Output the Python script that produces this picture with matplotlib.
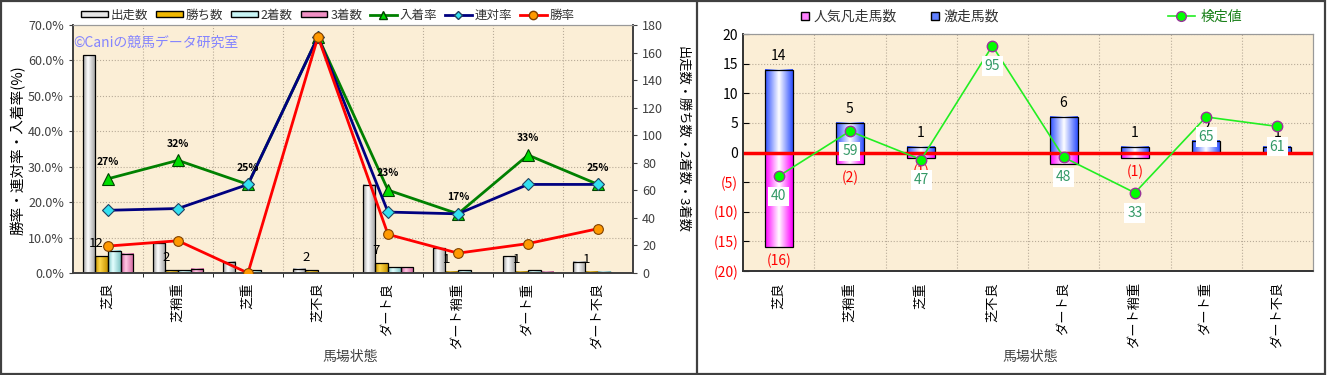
import numpy as np
import matplotlib.pyplot as plt
from matplotlib.colors import LinearSegmentedColormap
from matplotlib.lines import Line2D
from matplotlib.patches import Patch, Rectangle
from matplotlib.transforms import blended_transform_factory

plt.rcParams['font.family'] = ['Noto Sans CJK JP', 'DejaVu Sans']

categories = ['芝良', '芝稍重', '芝重', '芝不良', 'ダート良', 'ダート稍重', 'ダート重', 'ダート不良']

# left chart: counts (right axis) and rates in % (left axis)
runs = [158, 22, 8, 3, 64, 18, 12, 8]
wins = [12, 2, 0, 2, 7, 1, 1, 1]
seconds = [16, 2, 2, 0, 4, 2, 2, 1]
thirds = [14, 3, 0, 0, 4, 0, 1, 0]
win_rate = [7.6, 9.1, 0.0, 66.7, 10.9, 5.6, 8.3, 12.5]
rentai_rate = [17.7, 18.2, 25.0, 66.7, 17.2, 16.7, 25.0, 25.0]
place_rate = [26.6, 31.8, 25.0, 66.7, 23.4, 16.7, 33.3, 25.0]
place_labels = ['27%', '32%', '25%', '67%', '23%', '17%', '33%', '25%']

# right chart
gekisou = [14, 5, 1, 0, 6, 1, 2, 1]         # 激走馬数
bonsou = [-16, -2, -1, 0, -2, -1, 0, 0]     # 人気凡走馬数
kentei = [40, 59, 47, 95, 48, 33, 65, 61]   # 検定値

BG = '#fbeed6'
GRID = '#b8ab98'
W, H = 1328, 375


def grad_bars(ax, xs, heights, width, edge, center, mid=0.38, z=2):
    cmap = LinearSegmentedColormap.from_list('g', [(0, edge), (mid, center), (1, edge)])
    img = np.linspace(0, 1, 64).reshape(1, -1)
    for x, h in zip(xs, heights):
        if h == 0:
            continue
        ax.imshow(img, extent=[x - width / 2, x + width / 2, 0, h], aspect='auto',
                  cmap=cmap, interpolation='bilinear', zorder=z)
    ax.bar(xs, heights, width, facecolor='none', edgecolor='black', lw=0.9, zorder=z + 0.1)


def px_axes(x0, y0, x1, y1):
    return fig.add_axes([x0 / W, 1 - y1 / H, (x1 - x0) / W, (y1 - y0) / H])


fig = plt.figure(figsize=(W / 100, H / 100), dpi=100)
x = np.arange(len(categories))

# ---------------- left chart ----------------
ax_cnt = px_axes(73, 25, 633, 273)
ax_rate = ax_cnt.twinx()
ax_cnt.yaxis.tick_right()
ax_rate.yaxis.tick_left()
ax_rate.set_zorder(ax_cnt.get_zorder() + 1)
ax_rate.patch.set_visible(False)
ax_cnt.set_facecolor(BG)

bw = 0.18
bar_specs = [
    (runs, '#9c9c9c', '#ffffff'),
    (wins, '#c89400', '#ffd84a'),
    (seconds, '#7cc4c4', '#e4ffff'),
    (thirds, '#d0609c', '#ffc8e4'),
]
for k, (vals, edge, center) in enumerate(bar_specs):
    grad_bars(ax_cnt, x + (k - 1.5) * bw, vals, bw, edge, center)

for i, v in enumerate(wins):
    if v > 0:
        ax_cnt.annotate(str(v), (x[i] - 0.95 * bw, v), xytext=(0, 9), textcoords='offset points',
                        ha='center', va='center', fontsize=9.5, zorder=5)

# grid aligned to the percent axis
tr = blended_transform_factory(ax_cnt.transAxes, ax_rate.transData)
for p in range(10, 70, 10):
    ax_cnt.plot([0, 1], [p, p], transform=tr, color=GRID, lw=0.8, ls=':', zorder=1)
ax_cnt.set_xticks(np.arange(0.5, len(categories) - 1, 1), minor=True)
ax_cnt.grid(which='minor', axis='x', color=GRID, lw=0.8, ls=':', zorder=1)

ax_rate.plot(x, place_rate, color='#008000', lw=2, marker='^', ms=8,
             mfc='#00dd00', mec='#004000', mew=0.8, zorder=4, label='入着率')
ax_rate.plot(x, rentai_rate, color='#000080', lw=2, marker='D', ms=6,
             mfc='#33e0f0', mec='#204060', mew=0.8, zorder=4, label='連対率')
ax_rate.plot(x, win_rate, color='#ff0000', lw=2, marker='o', ms=7,
             mfc='#ff9900', mec='#804000', mew=0.8, zorder=4, label='勝率')
for i, (v, lab) in enumerate(zip(place_rate, place_labels)):
    ax_rate.annotate(lab, (x[i], v), xytext=(0, 12), textcoords='offset points',
                     ha='center', va='center', fontsize=7.5, fontweight='bold', zorder=5)

ax_cnt.set_xlim(-0.5, len(categories) - 0.5)
ax_cnt.set_ylim(0, 180)
ax_cnt.set_yticks(range(0, 181, 20))
ax_rate.set_ylim(0, 70)
ax_rate.set_yticks(range(0, 71, 10))
ax_rate.set_yticklabels([f'{v:.1f}%' for v in range(0, 71, 10)])
ax_cnt.set_xticks(x)
ax_cnt.set_xticklabels(categories, rotation=90, fontsize=9.5)
ax_cnt.tick_params(axis='x', which='major', length=0, pad=7)
ax_cnt.tick_params(axis='x', which='minor', length=3)
ax_cnt.tick_params(axis='y', labelsize=9, colors='#404040', length=3)
ax_rate.tick_params(axis='y', labelsize=9, colors='#404040', length=3)
for a in (ax_cnt, ax_rate):
    for s in ('left', 'bottom', 'right'):
        a.spines[s].set_color('#404040')
        a.spines[s].set_linewidth(1.2)
    a.spines['top'].set_color('#999999')

ax_cnt.text(0.0, 0.93, '©Caniの競馬データ研究室', transform=ax_cnt.transAxes,
            color='#8484ff', fontsize=10, va='center', zorder=6)

left_handles = [
    Patch(fc='#e6e6e6', ec='black', label='出走数'),
    Patch(fc='#f0b800', ec='black', label='勝ち数'),
    Patch(fc='#c8f4f4', ec='black', label='2着数'),
    Patch(fc='#f090c4', ec='black', label='3着数'),
    Line2D([], [], color='#008000', lw=2, marker='^', ms=6, mfc='#00dd00', mec='#004000', label='入着率'),
    Line2D([], [], color='#000080', lw=2, marker='D', ms=4.5, mfc='#33e0f0', mec='#204060', label='連対率'),
    Line2D([], [], color='#ff0000', lw=2, marker='o', ms=6, mfc='#ff9900', mec='#804000', label='勝率'),
]
leg = fig.legend(handles=left_handles, loc='center', bbox_to_anchor=(328 / W, 1 - 15 / H), ncol=7,
                 fontsize=9, frameon=True, facecolor='white', edgecolor='none', framealpha=1,
                 handlelength=2.1, handleheight=0.45, handletextpad=0.25, columnspacing=0.65,
                 borderpad=0.15)
for t in leg.get_texts():
    t.set_color('#333333')

fig.text(18 / W, 1 - 150 / H, '勝率・連対率・入着率(%)', rotation=90, ha='center', va='center', fontsize=10.5)
fig.text(682 / W, 1 - 140 / H, '出走数・勝ち数・2着数・3着数', rotation=-90, ha='center', va='center', fontsize=9.5)
fig.text(350 / W, 1 - 357 / H, '馬場状態', ha='center', va='center', fontsize=10, color='#404040')

# ---------------- right chart ----------------
ax_r = px_axes(743, 34, 1313, 271)
ax_t = ax_r.twinx()
ax_t.set_zorder(ax_r.get_zorder() + 1)
ax_t.patch.set_visible(False)
ax_r.set_facecolor(BG)

rw = 0.39
grad_bars(ax_r, x, gekisou, rw, '#2e50ff', '#ffffff', mid=0.5)
grad_bars(ax_r, x, bonsou, rw, '#ff00ff', '#ffffff', mid=0.5)
ax_r.axhline(0, color='#ff0000', lw=2.5, zorder=3)

for i, v in enumerate(gekisou):
    if v > 0:
        ax_r.annotate(str(v), (x[i], v), xytext=(0, 10), textcoords='offset points',
                      ha='center', va='center', fontsize=10, zorder=5)
for i, v in enumerate(bonsou):
    if v < 0:
        ax_r.annotate(f'({-v})', (x[i], v), xytext=(0, -10), textcoords='offset points',
                      ha='center', va='center', fontsize=10, color='#ff0000', zorder=5)

ax_t.plot(x, kentei, color='#22ee22', lw=1.2, marker='o', ms=7.5,
          mfc='#00ff00', mec='#993399', mew=1.0, zorder=4)
for i, v in enumerate(kentei):
    ax_t.annotate(str(v), (x[i], v), xytext=(0, -14.5), textcoords='offset points',
                  ha='center', va='center', fontsize=10, color='#339966', zorder=6,
                  bbox=dict(boxstyle='square,pad=0.2', fc='white', ec='none'))

ax_r.set_xlim(-0.5, len(categories) - 0.5)
ax_r.set_ylim(-20, 20)
ax_t.set_ylim(0, 100)
ax_t.set_yticks([])
yt = list(range(-20, 21, 5))
ax_r.set_yticks(yt)
ax_r.set_yticklabels([f'({-v})' if v < 0 else str(v) for v in yt], fontsize=10)
for lab, v in zip(ax_r.get_yticklabels(), yt):
    lab.set_color('#ff0000' if v < 0 else 'black')
ax_r.tick_params(axis='y', direction='in', length=4)
ax_r.set_xticks(x)
ax_r.set_xticklabels(categories, rotation=90, fontsize=9.5)
ax_r.tick_params(axis='x', which='major', length=0, pad=8)
ax_r.set_xticks(np.arange(0.5, len(categories) - 1, 1), minor=True)
ax_r.tick_params(axis='x', which='minor', length=0)
ax_r.grid(which='minor', axis='x', color=GRID, lw=0.8, ls=':', zorder=1)
ax_r.grid(which='major', axis='y', color=GRID, lw=0.8, ls=':', zorder=1)
ax_r.set_axisbelow(True)
for a in (ax_r, ax_t):
    for s in ('left', 'bottom'):
        a.spines[s].set_color('#333333')
        a.spines[s].set_linewidth(1.2)
    for s in ('top', 'right'):
        a.spines[s].set_color('#999999')

right_handles = [
    Line2D([], [], ls='none', marker='s', ms=6, mfc='#ff80ff', mec='black', label='人気凡走馬数'),
    Line2D([], [], ls='none', marker='s', ms=6, mfc='#6080ff', mec='black', label='激走馬数'),
]
leg2 = fig.legend(handles=right_handles, loc='center', bbox_to_anchor=(900 / W, 1 - 17 / H), ncol=2,
                  fontsize=10, frameon=False, handlelength=0.6, handletextpad=0.3, columnspacing=2.5)
for t in leg2.get_texts():
    t.set_color('#333333')
leg3 = fig.legend(handles=[Line2D([], [], color='#22ee22', lw=1.2, marker='o', ms=7, mfc='#00ff00',
                                  mec='#993399', label='検定値')],
                  loc='center', bbox_to_anchor=(1205 / W, 1 - 17 / H), fontsize=10, frameon=False,
                  handlelength=2.0, handletextpad=0.4)
leg3.get_texts()[0].set_color('#1a801a')

fig.text(1030 / W, 1 - 357 / H, '馬場状態', ha='center', va='center', fontsize=10, color='#404040')

# panel frames
fig.add_artist(Rectangle((0.001, 0.002), 0.997, 0.995, transform=fig.transFigure,
                         fill=False, ec='#404040', lw=1.6))
fig.add_artist(Line2D([697 / W, 697 / W], [0, 1], transform=fig.transFigure, color='#404040', lw=1.6))

fig.savefig('out.png', dpi=100)
